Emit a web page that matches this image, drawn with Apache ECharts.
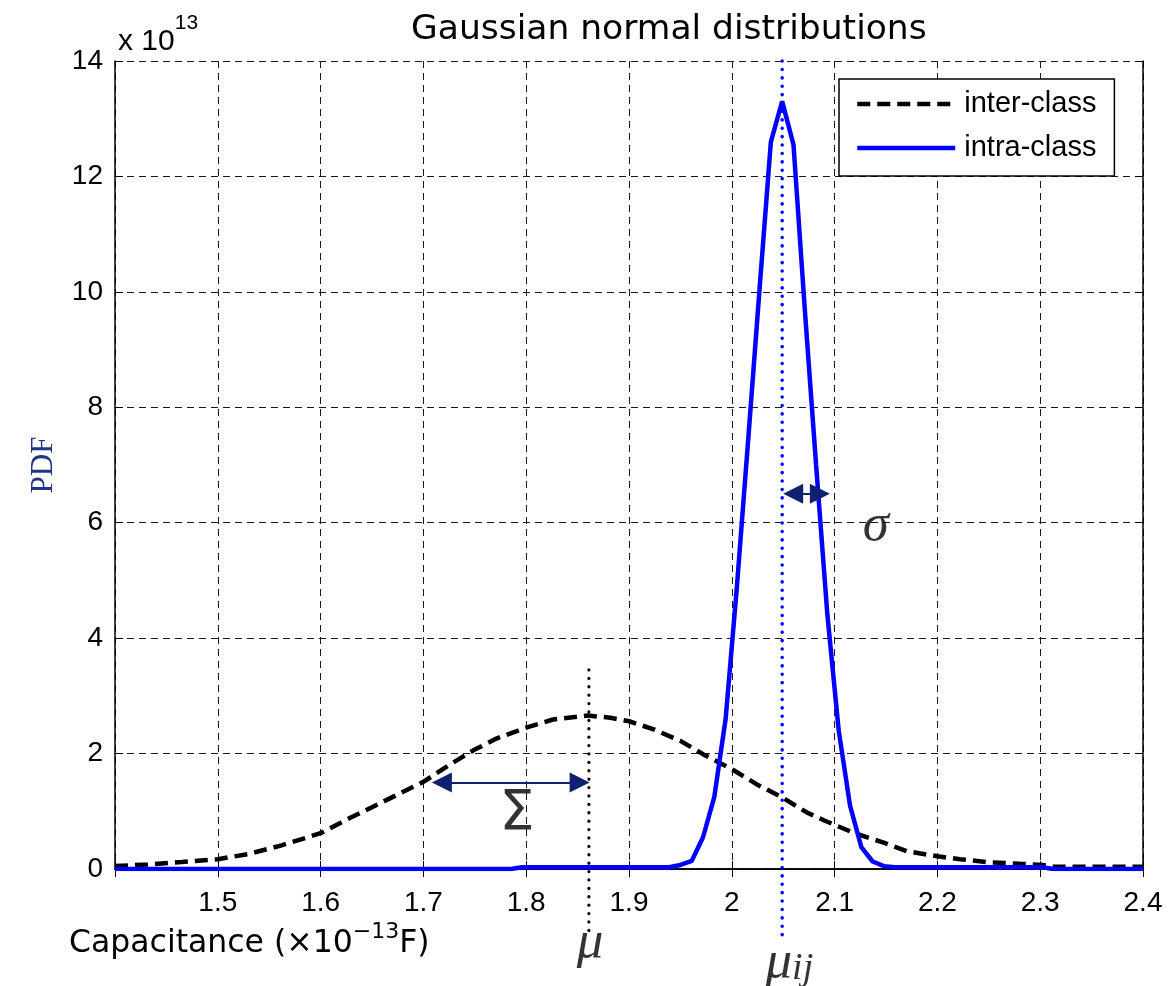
<!DOCTYPE html>
<html>
<head>
<meta charset="utf-8">
<script src="https://cdn.jsdelivr.net/npm/echarts@6/dist/echarts.min.js"></script>
<style>
html, body { margin: 0; padding: 0; background: #fff; }
#chart { width: 1169px; height: 986px; }
</style>
</head>
<body>
<div id="chart"></div>
<script>
// inter-class pdf (dashed black), x in 1e-13 F, y in 1e13
const interX = [1.400, 1.432, 1.465, 1.500, 1.530, 1.562, 1.600, 1.627, 1.659, 1.700, 1.724, 1.749,
  1.771, 1.800, 1.826, 1.860, 1.882, 1.900, 1.924, 1.950, 1.972, 2.000, 2.024, 2.049, 2.073, 2.090,
  2.118, 2.147, 2.170, 2.200, 2.222, 2.248, 2.280, 2.302, 2.313, 2.400]
const interY = [0.05, 0.08, 0.12, 0.17, 0.26, 0.41, 0.62, 0.87, 1.15, 1.51, 1.79, 2.06,
  2.26, 2.45, 2.59, 2.66, 2.62, 2.56, 2.42, 2.22, 1.99, 1.73, 1.47, 1.24, 0.98, 0.84,
  0.63, 0.46, 0.31, 0.22, 0.17, 0.12, 0.09, 0.07, 0.04, 0.04]

// intra-class pdf (solid blue)
const intraX = [1.400, 1.785, 1.796, 1.939, 1.950, 1.961, 1.972, 1.983, 1.994, 2.005, 2.016, 2.027,
  2.038, 2.049, 2.060, 2.071, 2.082, 2.093, 2.104, 2.115, 2.126, 2.137, 2.148, 2.159, 2.302, 2.313, 2.400]
const intraY = [0, 0, 0.03, 0.03, 0.07, 0.14, 0.55, 1.25, 2.6, 4.9, 7.45, 10.05,
  12.6, 13.3, 12.55, 9.7, 7.0, 4.4, 2.4, 1.1, 0.38, 0.13, 0.05, 0.03, 0.03, 0, 0]

// annotations (data coordinates)
const muX = 1.861
const muIjX = 2.049
const muLineY = [3.45, -1.15]
const muIjLineY = [14, -1.15]
const bigSigmaArrow = [[1.718, 1.5], [1.852, 1.5]]
const smallSigmaArrow = [[2.0597, 6.5], [2.0857, 6.5]]
const notes = [
  { text: '{g|Σ}', at: [1.791, 0.95] },
  { text: '{i|σ}', at: [2.140, 5.95] },
  { text: '{i|μ}', at: [1.862, -1.27] },
  { text: '{i|μ}{sub|ij}', at: [2.056, -1.62] }
]

const pairs = (xs, ys) => xs.map((x, i) => [x, ys[i]])

const chart = echarts.init(document.getElementById('chart'))

const sans = 'Liberation Sans'
const navy = '#0f2070'

const option = {
  animation: false,
  backgroundColor: '#fff',
  title: [
    {
      text: 'Gaussian normal distributions',
      left: 406, top: 8,
      textStyle: { fontFamily: 'DejaVu Sans', fontSize: 34.5, fontWeight: 'normal', color: '#000' }
    },
    {
      text: '{a|x 10}{s|13}',
      left: 113, top: 8,
      textStyle: {
        fontWeight: 'normal',
        rich: {
          a: { fontFamily: sans, fontSize: 30, fontWeight: 'normal', color: '#000', lineHeight: 58 },
          s: { fontFamily: sans, fontSize: 21, fontWeight: 'normal', color: '#000', lineHeight: 22, verticalAlign: 'top' }
        }
      }
    },
    {
      text: '{a|Capacitance (×10}{s|−13}{a|F)}',
      left: 64, top: 916,
      textStyle: {
        fontWeight: 'normal',
        rich: {
          a: { fontFamily: 'DejaVu Sans', fontSize: 31.5, fontWeight: 'normal', color: '#000', lineHeight: 46 },
          s: { fontFamily: 'DejaVu Sans', fontSize: 22, fontWeight: 'normal', color: '#000', lineHeight: 22, verticalAlign: 'top' }
        }
      }
    }
  ],
  legend: {
    data: ['inter-class', 'intra-class'],
    orient: 'vertical',
    left: 839, top: 79,
    padding: [10, 18, 13, 16],
    itemGap: 14,
    itemWidth: 98,
    itemHeight: 20,
    backgroundColor: '#fff',
    borderColor: '#000',
    borderWidth: 1.5,
    borderRadius: 0,
    itemStyle: { color: 'rgba(0,0,0,0)', borderWidth: 0, opacity: 0 },
    lineStyle: { width: 4.5 },
    textStyle: { fontFamily: sans, fontSize: 29, lineHeight: 30, color: '#000', padding: [0, 0, 0, 4] }
  },
  grid: { left: 115, top: 61, right: 26, bottom: 117 },
  xAxis: [
    {
      type: 'value', min: 1.4, max: 2.4, interval: 0.1,
      axisLine: { lineStyle: { color: '#000', width: 1.5 } },
      axisTick: { inside: true, length: 8, lineStyle: { color: '#000' } },
      axisLabel: {
        margin: 20, fontFamily: sans, fontSize: 28, color: '#000',
        formatter: v => (Math.abs(v - 1.4) < 1e-6 ? '' : String(+v.toFixed(1)))
      },
      splitLine: { show: true, lineStyle: { color: '#1a1a1a', width: 1, type: [7, 5] } }
    },
    {
      type: 'value', min: 1.4, max: 2.4, interval: 0.1, position: 'top',
      axisLine: { lineStyle: { color: '#000', width: 1.5 } },
      axisTick: { inside: true, length: 8, lineStyle: { color: '#000' } },
      axisLabel: { show: false },
      splitLine: { show: false }
    }
  ],
  yAxis: [
    {
      type: 'value', min: 0, max: 14, interval: 2,
      name: 'PDF', nameLocation: 'middle', nameGap: 56, nameRotate: 90,
      nameTextStyle: { fontFamily: 'Liberation Serif', fontSize: 31, color: '#1f3585' },
      axisLine: { show: true, lineStyle: { color: '#000', width: 1.5 } },
      axisTick: { show: true, inside: true, length: 8, lineStyle: { color: '#000' } },
      axisLabel: { margin: 12, fontFamily: sans, fontSize: 28, color: '#000' },
      splitLine: { show: true, lineStyle: { color: '#1a1a1a', width: 1, type: [7, 5] } }
    },
    {
      type: 'value', min: 0, max: 14, interval: 2, position: 'right',
      axisLine: { show: true, lineStyle: { color: '#000', width: 1.5 } },
      axisTick: { show: true, inside: true, length: 8, lineStyle: { color: '#000' } },
      axisLabel: { show: false },
      splitLine: { show: false }
    }
  ],
  series: [
    {
      name: 'inter-class', type: 'line', symbol: 'none', z: 3,
      data: pairs(interX, interY),
      lineStyle: { color: '#000', width: 4.5, type: [13, 7] },
      itemStyle: { color: '#000' }
    },
    {
      name: 'intra-class', type: 'line', symbol: 'none', z: 4,
      data: pairs(intraX, intraY),
      lineStyle: { color: '#0000ff', width: 4.5 },
      itemStyle: { color: '#0000ff' }
    },
    {
      name: 'mu', type: 'line', symbol: 'none', clip: false, z: 5, silent: true,
      data: muLineY.map(y => [muX, y]),
      lineStyle: { color: '#000', width: 3.2, type: [0.1, 8.3], cap: 'round' },
      markLine: {
        silent: true,
        symbol: ['triangle', 'triangle'],
        symbolSize: 20,
        label: { show: false },
        lineStyle: { color: navy, width: 2, type: 'solid' },
        itemStyle: { color: navy },
        data: [
          [{ coord: bigSigmaArrow[0] }, { coord: bigSigmaArrow[1] }],
          [{ coord: smallSigmaArrow[0] }, { coord: smallSigmaArrow[1] }]
        ]
      }
    },
    {
      name: 'muij', type: 'line', symbol: 'none', clip: false, z: 5, silent: true,
      data: muIjLineY.map(y => [muIjX, y]),
      lineStyle: { color: '#0000ff', width: 3.5, type: [0.1, 8.3], cap: 'round' }
    },
    {
      name: 'notes', type: 'scatter', clip: false, silent: true, symbolSize: 0, z: 6,
      data: notes.map(n => ({ value: n.at, label: { formatter: n.text } })),
      label: {
        show: true, position: 'inside', color: '#000', textBorderWidth: 0,
        rich: {
          g: { fontFamily: 'DejaVu Sans', fontSize: 56, color: '#000', textBorderWidth: 0 },
          i: { fontFamily: 'Liberation Serif', fontStyle: 'italic', fontSize: 53, color: '#000', textBorderWidth: 0, lineHeight: 52, verticalAlign: 'top' },
          sub: { fontFamily: 'Liberation Serif', fontStyle: 'italic', fontSize: 38, color: '#000', textBorderWidth: 0, lineHeight: 36, verticalAlign: 'bottom', padding: [20, 0, 0, 0] }
        }
      }
    }
  ]
}

chart.setOption(option)
</script>
</body>
</html>
